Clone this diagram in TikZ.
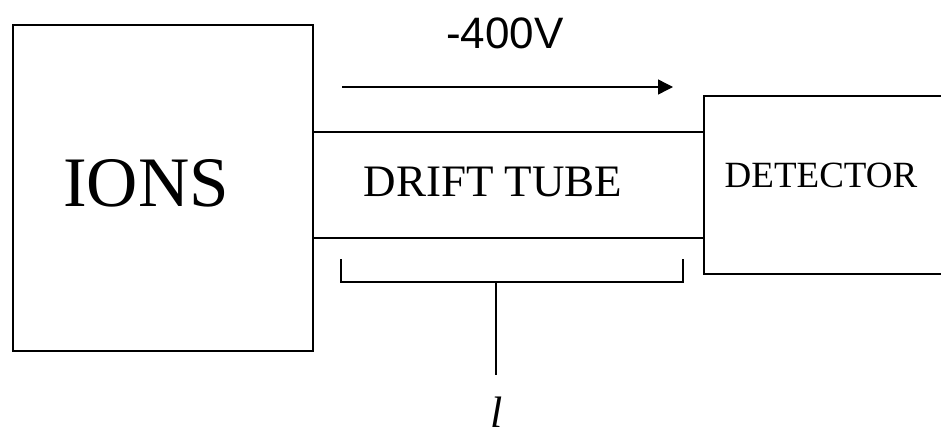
\documentclass[tikz,border=0pt]{standalone}
\usepackage{fontspec}
\setmainfont{Liberation Serif}
\newfontfamily\arialfont{Liberation Sans}
\usetikzlibrary{arrows.meta}
\begin{document}
\begin{tikzpicture}[x=1pt,y=-1pt,
  line/.style={draw=black,line width=1.6pt},
  box/.style={line,rectangle,inner sep=0pt,anchor=north west},
  lbl/.style={inner sep=0pt,text=black}]
\useasboundingbox (0,0) rectangle (941,434);
\clip (0,0) rectangle (941,434);
% boxes
\node[box,minimum width=300pt,minimum height=326pt] (ions) at (12,24) {};
\node[box,minimum width=260pt,minimum height=178pt] (det) at (703,95) {};
% tube
\coordinate (t1) at (312,132);
\coordinate (t2) at (703,132);
\coordinate (b1) at (312,238);
\coordinate (b2) at (703,238);
\draw[line] (t1) -- (t2);
\draw[line] (b1) -- (b2);
% labels
\node[lbl,font=\fontsize{71}{71}\selectfont] (ionsl) at (146,183) {IONS};
\node[lbl,font=\fontsize{45}{45}\selectfont] (tubel) at (493,182) {DRIFT TUBE};
\node[lbl,font=\fontsize{37}{37}\selectfont] (detl) at (821,175) {DETECTOR};
\node[lbl,font=\arialfont\fontsize{44}{44}\selectfont] (volt) at (505,33) {-400V};
% arrow
\coordinate (a1) at (342,87);
\coordinate (a2) at (673,87);
\draw[line,line width=1.4pt,-{Triangle[length=15pt,width=15pt]}] (a1) -- (a2);
% bracket
\coordinate (k1) at (341,259);
\coordinate (k2) at (341,282);
\coordinate (k3) at (683,282);
\coordinate (k4) at (683,259);
\coordinate (s1) at (496,282);
\coordinate (s2) at (496,375);
\draw[line,line width=1.4pt] (k1) -- (k2) -- (k3) -- (k4);
\draw[line,line width=1.4pt] (s1) -- (s2);
\node[lbl,anchor=base,font=\itshape\fontsize{44}{44}\selectfont] (len) at (497,427) {l};
\end{tikzpicture}
\end{document}
